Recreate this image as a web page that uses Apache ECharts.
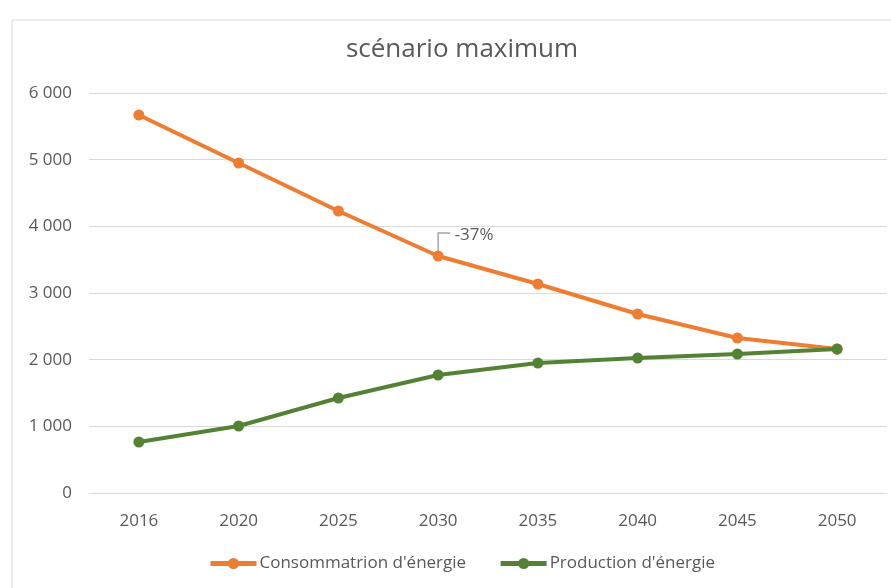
<!DOCTYPE html>
<html>
<head>
<meta charset="utf-8">
<script src="https://cdn.jsdelivr.net/npm/echarts@6/dist/echarts.min.js"></script>
<style>
  html, body { margin: 0; padding: 0; background: #fff; }
  #chart { width: 891px; height: 588px; }
</style>
</head>
<body>
<div id="chart"></div>
<script>
// Scenario data (energy, per year)
const years = ['2016', '2020', '2025', '2030', '2035', '2040', '2045', '2050'];
const consommation = [5670, 4950, 4230, 3555, 3135, 2685, 2325, 2160];
const production = [765, 1005, 1425, 1770, 1950, 2025, 2085, 2160];
const yTicks = { min: 0, max: 6000, interval: 1000 };
const annotatedIndex = 3; // 2030: change vs 2016

const FONT = '"Open Sans", "Noto Sans", sans-serif';
const TEXT = '#595959';

function fmtThousands(v) {
  return String(v).replace(/\B(?=(\d{3})+(?!\d))/g, ' ');
}

const consData = consommation.map((v, i) => {
  if (i !== annotatedIndex) return v;
  return {
    value: v,
    label: {
      show: true,
      position: 'right',
      distance: 5,
      formatter: () => Math.round((v / consommation[0] - 1) * 100) + '%',
      color: TEXT,
      fontFamily: FONT,
      fontSize: 17
    }
  };
});

const chart = echarts.init(document.getElementById('chart'), null, { renderer: 'canvas' });
chart.setOption({
  animation: false,
  graphic: [{
    id: 'frame',
    type: 'rect',
    shape: { x: 12, y: 20, width: 900, height: 600 },
    style: { fill: 'none', stroke: '#d9d9d9', lineWidth: 1 },
    silent: true
  }],
  title: {
    text: 'scénario maximum',
    left: 457,
    textAlign: 'center',
    top: 32,
    textStyle: { fontFamily: FONT, fontSize: 26, fontWeight: 'normal', color: TEXT }
  },
  grid: { left: 89, right: 4, top: 93, bottom: 95, containLabel: false },
  legend: {
    bottom: 11,
    left: 203,
    itemWidth: 46,
    itemHeight: 14,
    itemGap: 32,
    lineStyle: { width: 5 },
    textStyle: { fontFamily: FONT, fontSize: 17, color: TEXT, padding: [0, 0, 0, -2] },
    data: ['Consommatrion d\'énergie', 'Production d\'énergie']
  },
  xAxis: {
    type: 'category',
    data: years,
    boundaryGap: true,
    axisLine: { lineStyle: { color: '#d9d9d9' } },
    axisTick: { show: false },
    axisLabel: { fontFamily: FONT, fontSize: 17, color: TEXT, margin: 20 }
  },
  yAxis: {
    type: 'value',
    min: yTicks.min,
    max: yTicks.max,
    interval: yTicks.interval,
    axisLine: { show: false },
    axisTick: { show: false },
    splitLine: { lineStyle: { color: '#d9d9d9', width: 1 } },
    axisLabel: { fontFamily: FONT, fontSize: 17, color: TEXT, margin: 17, formatter: fmtThousands }
  },
  series: [
    {
      name: 'Consommatrion d\'énergie',
      type: 'line',
      data: consData,
      symbol: 'circle',
      symbolSize: 11,
      itemStyle: { color: '#ED7D31' },
      lineStyle: { color: '#ED7D31', width: 4 },
      labelLayout: (params) => params.dataIndex === annotatedIndex ? { dx: 6, dy: -21 } : {},
      z: 2
    },
    {
      name: 'Production d\'énergie',
      type: 'line',
      data: production,
      symbol: 'circle',
      symbolSize: 11,
      itemStyle: { color: '#548235' },
      lineStyle: { color: '#548235', width: 4 },
      z: 3
    }
  ]
});

// Leader line from the annotated point up to its label
const p = chart.convertToPixel({ seriesIndex: 0 }, [annotatedIndex, consommation[annotatedIndex]]);
chart.setOption({
  graphic: [{
    id: 'leader',
    type: 'polyline',
    shape: { points: [[p[0], p[1] - 4], [p[0], p[1] - 23], [p[0] + 12, p[1] - 23]] },
    style: { fill: 'none', stroke: '#a6a6a6', lineWidth: 1.5 },
    z: 1,
    silent: true
  }]
});
</script>
</body>
</html>
